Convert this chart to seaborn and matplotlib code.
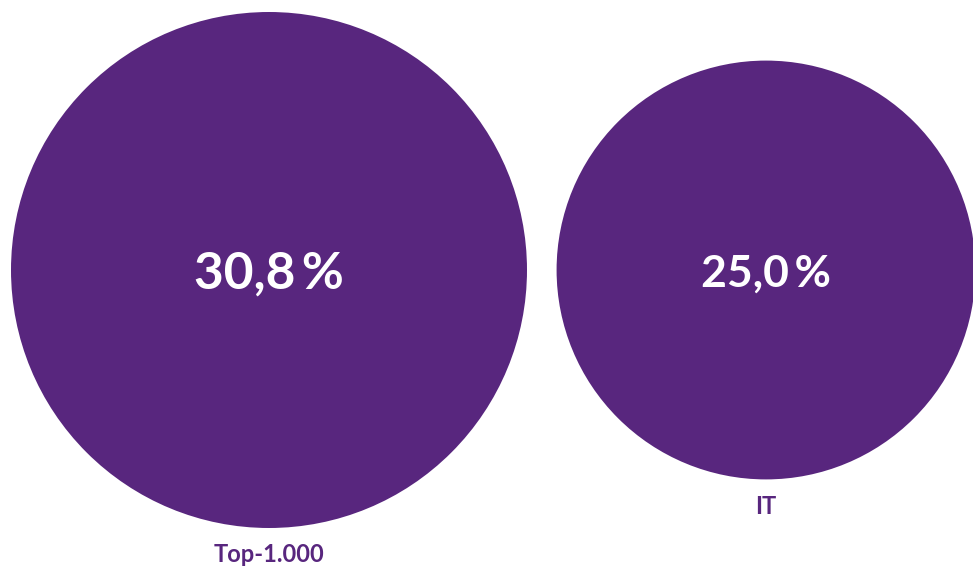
import matplotlib
matplotlib.use("Agg")
import matplotlib.pyplot as plt
from matplotlib.patches import Circle
import seaborn as sns

categories = ["Top-1.000", "IT"]
values = [30.8, 25.0]
value_labels = ["30,8\u2009%", "25,0\u2009%"]

sns.set_theme(style="white")
plt.rcParams["font.family"] = ["Lato", "DejaVu Sans"]

purple = "#58267E"
W, H = 973, 567
fig = plt.figure(figsize=(W / 100, H / 100), dpi=100)
ax = fig.add_axes([0, 0, 1, 1])
ax.set_xlim(0, W)
ax.set_ylim(H, 0)
ax.set_aspect("equal")
ax.axis("off")

# radius scales linearly with the share
scale = 258 / 30.8
centers_x = [269, 766]
center_y = 270

for cx, cat, val, lab in zip(centers_x, categories, values, value_labels):
    r = val * scale
    ax.add_patch(Circle((cx, center_y), r, facecolor=purple, edgecolor="none"))
    fs = 37 if val > 28 else 32
    ax.text(cx, center_y + 4, lab, ha="center", va="center", color="white",
            fontsize=fs, fontweight="bold")
    ax.text(cx, center_y + r + 27, cat, ha="center", va="center", color=purple,
            fontsize=17, fontweight="bold")

fig.savefig("out.png", dpi=100)
